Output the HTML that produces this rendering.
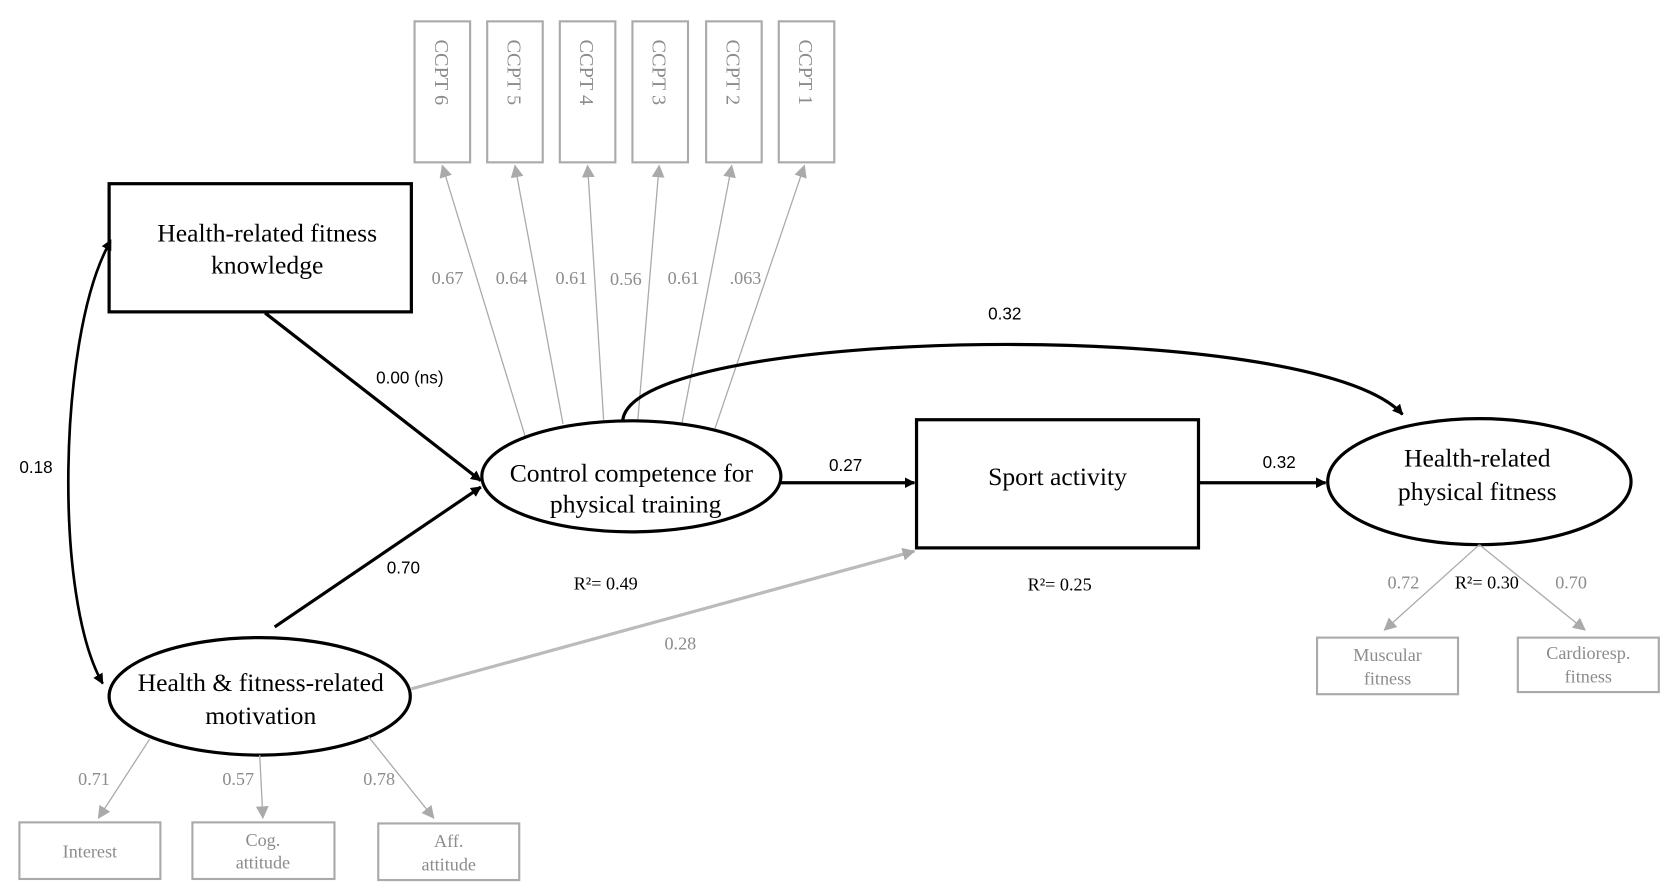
<!DOCTYPE html>
<html><head><meta charset="utf-8"><style>
html,body{margin:0;padding:0;background:#fff;}
svg{display:block;}
text{font-family:"Liberation Serif",serif;}
.g{fill:#8c8c8c;}
.s{font-family:"Liberation Sans Narrow","Liberation Sans",sans-serif;}
</style></head><body>
<svg width="1675" height="895" viewBox="0 0 1568 838" xmlns="http://www.w3.org/2000/svg">
<defs>
<marker id="ab" markerWidth="10" markerHeight="10" refX="9" refY="5" orient="auto" markerUnits="userSpaceOnUse"><path d="M0,0 L10,5 L0,10 Z" fill="#000"/></marker>
<marker id="ag" markerWidth="12" markerHeight="12" refX="11" refY="6" orient="auto" markerUnits="userSpaceOnUse"><path d="M0,0 L12,6 L0,12 Z" fill="#aaa"/></marker>
<marker id="abs" markerWidth="10" markerHeight="10" refX="1" refY="5" orient="auto-start-reverse" markerUnits="userSpaceOnUse"><path d="M0,0 L10,5 L0,10 Z" fill="#000"/></marker>
</defs>

<g fill="#fff" stroke="#aaa" stroke-width="2">
<rect x="388" y="20" width="52" height="132"/>
<rect x="456" y="20" width="52" height="132"/>
<rect x="524" y="20" width="52" height="132"/>
<rect x="592" y="20" width="52" height="132"/>
<rect x="661" y="20" width="52" height="132"/>
<rect x="729" y="20" width="52" height="132"/>
</g>
<g class="g" font-size="19">
<text transform="translate(407,37) rotate(90)">CCPT 6</text>
<text transform="translate(475,37) rotate(90)">CCPT 5</text>
<text transform="translate(543,37) rotate(90)">CCPT 4</text>
<text transform="translate(611,37) rotate(90)">CCPT 3</text>
<text transform="translate(680,37) rotate(90)">CCPT 2</text>
<text transform="translate(748,37) rotate(90)">CCPT 1</text>
</g>
<g stroke="#aaa" stroke-width="1.2" marker-end="url(#ag)">
<line x1="492" y1="410" x2="414" y2="155"/>
<line x1="527" y1="397" x2="482" y2="155"/>
<line x1="565" y1="393" x2="550" y2="155"/>
<line x1="597" y1="394" x2="617" y2="155"/>
<line x1="638" y1="398" x2="685" y2="155"/>
<line x1="668" y1="405" x2="753" y2="155"/>
</g>
<g class="g" font-size="17">
<text x="404" y="266">0.67</text>
<text x="464" y="266">0.64</text>
<text x="520" y="266">0.61</text>
<text x="571" y="267">0.56</text>
<text x="625" y="266">0.61</text>
<text x="683" y="266">.063</text>
</g>

<rect x="102" y="172" width="283" height="120" fill="#fff" stroke="#000" stroke-width="3"/>
<text x="250" y="226" font-size="24" text-anchor="middle">Health-related fitness</text>
<text x="250" y="256" font-size="24" text-anchor="middle">knowledge</text>

<path d="M100,232 C55,320 50,560 96,640" fill="none" stroke="#000" stroke-width="2.5" marker-start="url(#abs)" marker-end="url(#ab)"/>
<text x="18" y="443" font-size="16" class="s">0.18</text>

<g stroke="#000" stroke-width="3" fill="none" marker-end="url(#ab)">
<line x1="248" y1="293" x2="450" y2="450"/>
<line x1="257" y1="587" x2="450" y2="456"/>
<line x1="731" y1="452" x2="856" y2="452"/>
<line x1="1122" y1="452" x2="1241" y2="452"/>
<path d="M583,393 C595,305 1230,295 1313,388"/>
</g>
<line x1="385" y1="645" x2="856" y2="516" stroke="#bbb" stroke-width="3" marker-end="url(#ag)"/>

<text x="352" y="359" font-size="16" class="s">0.00 (ns)</text>
<text x="362" y="537" font-size="16" class="s">0.70</text>
<text x="776" y="441" font-size="16" class="s">0.27</text>
<text x="1182" y="438" font-size="16" class="s">0.32</text>
<text x="925" y="299" font-size="16" class="s">0.32</text>
<text x="622" y="608" font-size="17" class="g">0.28</text>

<ellipse cx="591" cy="446" rx="140" ry="52" fill="#fff" stroke="#000" stroke-width="3"/>
<text x="591" y="451" font-size="24" text-anchor="middle">Control competence for</text>
<text x="595" y="480" font-size="24" text-anchor="middle">physical training</text>
<text x="537" y="552" font-size="17">R²= 0.49</text>

<rect x="858" y="393" width="264" height="120" fill="#fff" stroke="#000" stroke-width="3"/>
<text x="990" y="454" font-size="24" text-anchor="middle">Sport activity</text>
<text x="962" y="553" font-size="17">R²= 0.25</text>

<ellipse cx="1385" cy="451" rx="142" ry="59" fill="#fff" stroke="#000" stroke-width="3"/>
<text x="1383" y="437" font-size="24" text-anchor="middle">Health-related</text>
<text x="1383" y="468" font-size="24" text-anchor="middle">physical fitness</text>
<g stroke="#aaa" stroke-width="1.2" marker-end="url(#ag)">
<line x1="1385" y1="510" x2="1296" y2="590"/>
<line x1="1385" y1="510" x2="1484" y2="590"/>
</g>
<text x="1299" y="551" font-size="17" class="g">0.72</text>
<text x="1362" y="551" font-size="17">R²= 0.30</text>
<text x="1456" y="551" font-size="17" class="g">0.70</text>
<g fill="#fff" stroke="#aaa" stroke-width="2">
<rect x="1233" y="597" width="132" height="53"/>
<rect x="1421" y="597" width="132" height="51"/>
</g>
<g class="g" font-size="17" text-anchor="middle">
<text x="1299" y="619">Muscular</text><text x="1299" y="641">fitness</text>
<text x="1487" y="617">Cardioresp.</text><text x="1487" y="639">fitness</text>
</g>

<ellipse cx="243" cy="652" rx="141" ry="55" fill="#fff" stroke="#000" stroke-width="3"/>
<text x="244" y="647" font-size="24" text-anchor="middle">Health &amp; fitness-related</text>
<text x="244" y="678" font-size="24" text-anchor="middle">motivation</text>
<g stroke="#aaa" stroke-width="1.2" marker-end="url(#ag)">
<line x1="140" y1="692" x2="92" y2="766"/>
<line x1="243" y1="707" x2="246" y2="766"/>
<line x1="345" y1="690" x2="406" y2="766"/>
</g>
<g class="g" font-size="17">
<text x="73" y="735">0.71</text>
<text x="208" y="735">0.57</text>
<text x="340" y="735">0.78</text>
</g>
<g fill="#fff" stroke="#aaa" stroke-width="2">
<rect x="18" y="770" width="132" height="53"/>
<rect x="180" y="770" width="133" height="53"/>
<rect x="354" y="771" width="132" height="53"/>
</g>
<g class="g" font-size="17" text-anchor="middle">
<text x="84" y="803">Interest</text>
<text x="246" y="792">Cog.</text><text x="246" y="813">attitude</text>
<text x="420" y="793">Aff.</text><text x="420" y="815">attitude</text>
</g>
</svg>
</body></html>
